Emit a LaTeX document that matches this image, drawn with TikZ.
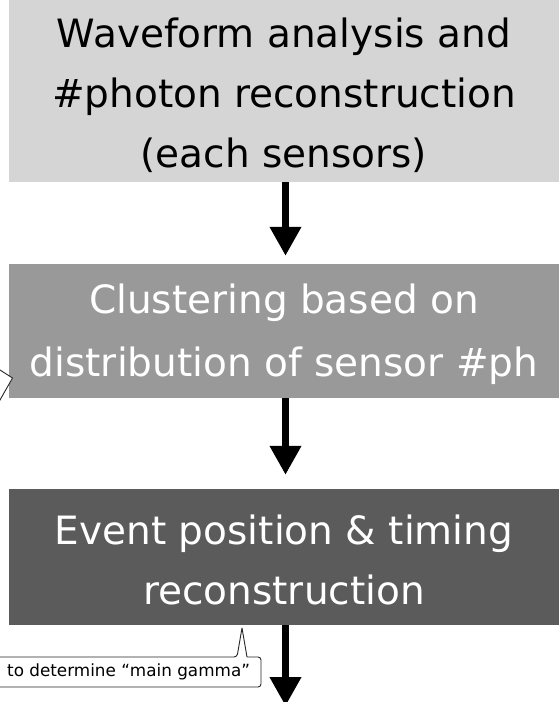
\documentclass[tikz,border=0pt]{standalone}
\usepackage{fontspec}
\setmainfont{DejaVu Sans}
\usetikzlibrary{arrows.meta}
\definecolor{stageA}{HTML}{D5D5D5}
\definecolor{stageB}{HTML}{999999}
\definecolor{stageC}{HTML}{5B5B5B}
\begin{document}
\begin{tikzpicture}[x=1pt,y=-1pt,
  stage/.style={minimum width=550pt, inner sep=0pt},
  caption/.style={inner sep=0pt, align=center, font=\fontsize{39}{60}\selectfont},
  flow/.style={line width=7pt, -{Triangle[width=30pt,length=29pt]}},
  bubble/.style={fill=white, draw=black!85, line width=0.9pt, line join=round},
]
\useasboundingbox (0,0) rectangle (559,702);
\clip (0,0) rectangle (559,702);
\fill[white] (0,0) rectangle (559,702);

% processing stages
\node[stage, fill=stageA, minimum height=182pt] (b1) at (284,91) {};
\node[stage, fill=stageB, minimum height=134pt] (b2) at (284,331) {};
\node[stage, fill=stageC, minimum height=136pt] (b3) at (284,557) {};

\node[caption] (t1) at ([yshift=-4pt]b1.center)
  {Waveform analysis and\\\#photon reconstruction\\(each sensors)};
\node[caption, text=white, font=\fontsize{39}{63}\selectfont] (t2) at ([yshift=-3pt]b2.center)
  {Clustering based on\\distribution of sensor \#ph};
\node[caption, text=white] (t3) at ([yshift=-3pt]b3.center)
  {Event position \& timing\\reconstruction};

% flow arrows
\coordinate (out) at (285.5,706);
\draw[flow] ([xshift=1.5pt]b1.south) -- ([xshift=1.5pt,yshift=8pt]b2.north);
\draw[flow] ([xshift=1.5pt]b2.south) -- ([xshift=1.5pt,yshift=14pt]b3.north);
\draw[flow] ([xshift=1.5pt]b3.south) -- (out);

% pointer of a side note on the left
\draw[bubble] (-2,368.7) -- (12.5,378) -- (-2,403.5);

% note below the last stage
\draw[bubble] (237,657) -- (242,628) -- (247,657) [rounded corners=3pt]
  -- (261,657) -- (261,687) -- (-5,687) -- (-5,657) -- cycle;
\node[anchor=west, inner sep=0pt, font=\fontsize{16.8}{18}\selectfont] (note) at (7,672)
  {to determine “main gamma”};
\end{tikzpicture}
\end{document}
